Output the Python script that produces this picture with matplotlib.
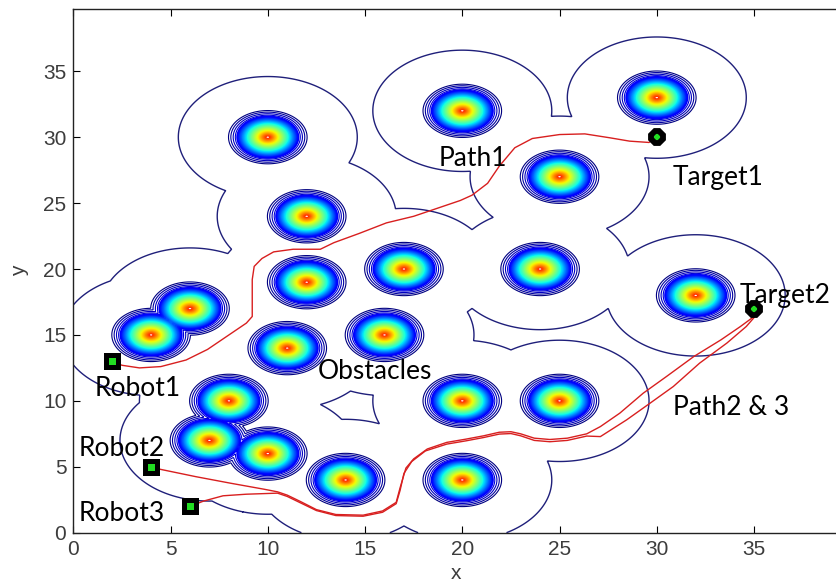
import numpy as np
import matplotlib
matplotlib.use('Agg')
import matplotlib.pyplot as plt

# ---- data ----
obs_x = [10, 20, 30, 25, 12, 12, 17, 24, 32, 4, 6, 11, 16, 8, 7, 10, 14, 20, 25, 20]
obs_y = [30, 32, 33, 27, 24, 19, 20, 20, 18, 15, 17, 14, 15, 10, 7, 6, 4, 10, 10, 4]
influence_radius = 4.6

robot_x = [2, 4, 6]
robot_y = [13, 5, 2]
target_x = [30, 35]
target_y = [30, 17]

path1_x = [2.0, 2.5, 3.4, 4.5, 5.8, 6.9, 7.9, 8.9, 9.2, 9.2, 9.2, 9.3, 9.7, 10.3, 11.3, 12.7,
           13.4, 14.7, 16.1, 17.5, 18.5, 19.9, 20.5, 21.3, 21.9, 22.7, 23.6, 25.0, 26.3, 27.6,
           28.6, 29.6, 30.0]
path1_y = [13.0, 12.7, 12.5, 12.6, 13.1, 13.9, 14.9, 15.9, 16.4, 17.7, 19.2, 20.2, 20.8, 21.3,
           21.5, 21.5, 22.0, 22.7, 23.5, 24.0, 24.5, 25.2, 25.6, 26.5, 27.8, 29.2, 29.9, 30.2,
           30.25, 29.95, 29.7, 29.6, 30.0]

path2_x = [4.0, 4.5, 6.3, 8.1, 9.8, 10.5, 11.0, 11.7, 12.5, 13.5, 14.9, 15.9, 16.6, 16.8, 17.1,
           17.5, 18.2, 19.2, 20.2, 21.1, 21.9, 22.5, 23.0, 23.7, 24.5, 25.4, 26.4, 27.1, 28.1,
           29.3, 30.5, 31.9, 33.3, 34.3, 35.0, 35.0]
path2_y = [5.0, 4.8, 4.25, 3.75, 3.3, 3.1, 2.85, 2.35, 1.75, 1.38, 1.33, 1.65, 2.3, 3.4, 4.9,
           5.6, 6.35, 6.85, 7.1, 7.35, 7.62, 7.66, 7.5, 7.17, 7.07, 7.17, 7.5, 8.05, 9.07, 10.58,
           11.85, 13.36, 14.63, 15.64, 16.4, 17.0]

path3_x = [6.0, 6.7, 7.7, 8.9, 10.5, 11.0, 11.7, 12.5, 13.5, 14.9, 15.9, 16.6, 16.8, 17.0, 17.4,
           18.1, 19.2, 20.2, 21.1, 21.9, 22.5, 23.0, 23.7, 24.5, 25.4, 26.4, 27.1, 28.45, 29.65,
           30.85, 32.2, 33.6, 34.6, 35.05, 35.0]
path3_y = [2.0, 2.4, 2.8, 2.92, 3.0, 2.75, 2.25, 1.68, 1.3, 1.25, 1.55, 2.2, 3.2, 4.5, 5.4,
           6.2, 6.72, 6.97, 7.22, 7.48, 7.52, 7.35, 7.0, 6.9, 7.0, 7.33, 7.29, 8.56, 9.82,
           11.09, 12.86, 14.38, 15.64, 16.4, 17.0]

label_texts = ["Path1", "Target1", "Target2", "Obstacles", "Path2 & 3", "Robot1", "Robot2", "Robot3"]
label_x = [18.8, 30.8, 34.25, 12.55, 30.85, 1.12, 0.26, 0.26]
label_y = [27.8, 26.4, 17.45, 11.65, 8.95, 10.35, 5.8, 0.85]

x_ticks = [0, 5, 10, 15, 20, 25, 30, 35]
y_ticks = [0, 5, 10, 15, 20, 25, 30, 35]

# ---- figure ----
fig = plt.figure(figsize=(8.36, 5.85), dpi=100)
xmax, ymax = 39.7, 39.7
ax = fig.add_axes([73.3 / 836, 1 - 532.7 / 585, xmax * 19.45 / 836, (532.7 - 9.3) / 585])
ax.set_xlim(0, xmax)
ax.set_ylim(0, ymax)

step = 0.033
g = np.arange(0, xmax + step, step)
X, Y = np.meshgrid(g, g)
D = np.full(X.shape, np.inf)
for ox, oy in zip(obs_x, obs_y):
    D = np.minimum(D, np.hypot(X - ox, Y - oy))

# outer influence boundary
ax.contour(X, Y, D, levels=[influence_radius], colors='#1f1f7a', linewidths=1.0)

# obstacle rings
outer_r = [2.02, 1.9, 1.78, 1.67]
inner_r = list(np.arange(1.58, 0.09, -0.042))
radii = sorted(outer_r + inner_r)
jet = plt.get_cmap('jet')
cols = []
lws = []
for r in radii:
    if r > 1.6:
        c = 0.0 + (2.02 - r) / 0.35 * 0.08
        lws.append(0.8)
    else:
        c = 0.12 + (1.58 - r) / 1.58 * 0.80
        lws.append(1.15)
    cols.append(jet(c))
ax.contour(X, Y, D, levels=radii, colors=cols, linewidths=lws)

# paths
red = '#d81f1f'
ax.plot(path1_x, path1_y, color=red, lw=1.0)
ax.plot(path2_x, path2_y, color=red, lw=1.0)
ax.plot(path3_x, path3_y, color=red, lw=1.0)

# robots and targets
ax.plot(robot_x, robot_y, linestyle='none', marker='s', markersize=8,
        markerfacecolor='#22dd22', markeredgecolor='black', markeredgewidth=3.6, zorder=5)
ax.plot(target_x, target_y, linestyle='none', marker='8', markersize=9,
        markerfacecolor='#22dd22', markeredgecolor='black', markeredgewidth=4.2, zorder=5)

for t, lx, ly in zip(label_texts, label_x, label_y):
    ax.text(lx, ly, t, family=['Lato', 'DejaVu Sans'], fontsize=19, color='black',
            ha='left', va='baseline', zorder=6)

ax.set_xticks(x_ticks)
ax.set_yticks(y_ticks)
ax.tick_params(direction='in', top=True, right=True, length=5, width=0.8,
               labelsize=15, labelcolor='#3c3c3c', pad=5)
for lab in ax.get_xticklabels() + ax.get_yticklabels():
    lab.set_family(['Liberation Sans', 'DejaVu Sans'])
for s in ax.spines.values():
    s.set_color('#222222')
    s.set_linewidth(1.0)
ax.set_xlabel('x', fontsize=15, color='#3c3c3c', family=['Liberation Sans', 'DejaVu Sans'])
ax.set_ylabel('y', fontsize=15, color='#3c3c3c', family=['Liberation Sans', 'DejaVu Sans'], labelpad=10)
ax.xaxis.label.set_va('baseline')
ax.xaxis.set_label_coords(19.7 / xmax, -(579 - 532.7) / (532.7 - 9.3))

fig.savefig('out.png', dpi=100, facecolor='white')
